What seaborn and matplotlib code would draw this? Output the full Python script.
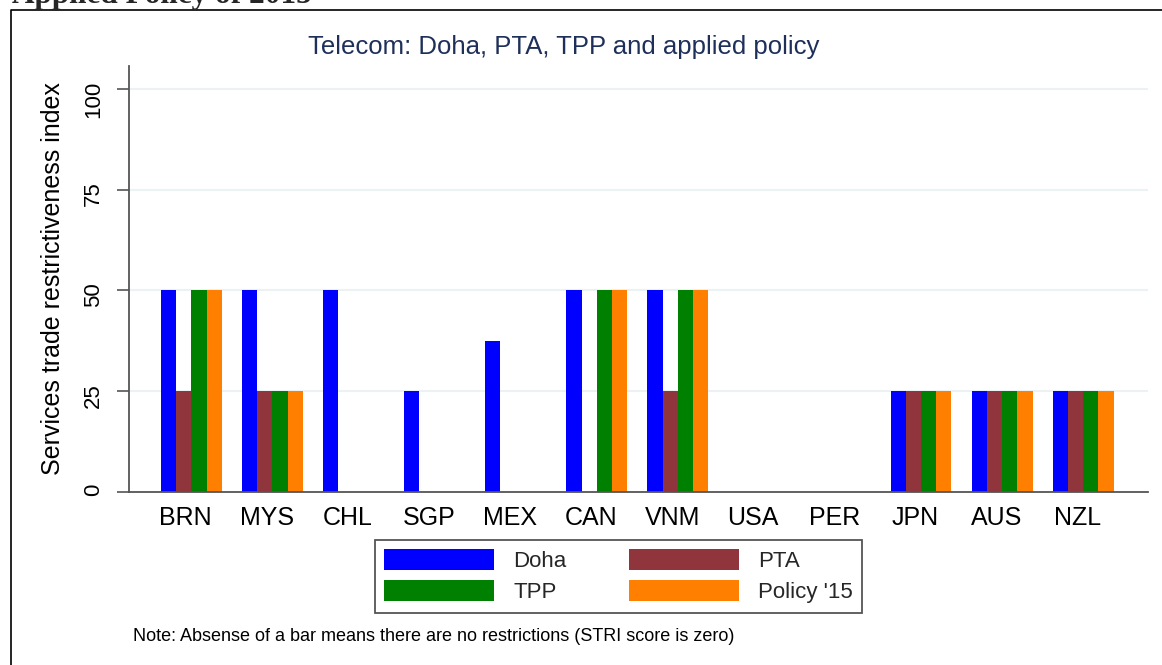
import numpy as np
import pandas as pd
import seaborn as sns
import matplotlib.pyplot as plt
from matplotlib.lines import Line2D

# Data (STRI scores, telecom)
countries = ['BRN', 'MYS', 'CHL', 'SGP', 'MEX', 'CAN', 'VNM', 'USA', 'PER', 'JPN', 'AUS', 'NZL']
doha = [50, 50, 50, 25, 37.5, 50, 50, 0, 0, 25, 25, 25]
pta = [25, 25, 0, 0, 0, 0, 25, 0, 0, 25, 25, 25]
tpp = [50, 25, 0, 0, 0, 50, 50, 0, 0, 25, 25, 25]
policy15 = [50, 25, 0, 0, 0, 50, 50, 0, 0, 25, 25, 25]
series_names = ['Doha', 'PTA', 'TPP', "Policy '15"]
series_colors = ['#0000ff', '#90353b', '#008000', '#ff8000']

df = pd.DataFrame({
    'country': countries * 4,
    'series': [s for s in series_names for _ in countries],
    'value': doha + pta + tpp + policy15,
})

sns.set_style("white")
plt.rcParams['font.family'] = ['Liberation Sans', 'DejaVu Sans']

fig = plt.figure(figsize=(11.62, 6.65), dpi=100)
ax = fig.add_axes([0.111, 0.2602, 0.877, 0.6406])

sns.barplot(data=df, x='country', y='value', hue='series', order=countries,
            hue_order=series_names, palette=series_colors, width=0.75,
            saturation=1, errorbar=None, linewidth=0, ax=ax)

ax.set_xlim(-0.77, 11.8)
ax.set_ylim(0, 105.7)
ax.set_yticks([0, 25, 50, 75, 100])
# labels sit a little left of the bar groups in the original
ax.set_xticks(np.arange(len(countries)) - 0.07)
ax.set_xticklabels(countries)
ax.grid(axis='y', color='#eaf2f3', linewidth=1.5)
ax.set_axisbelow(True)
for side in ['top', 'right']:
    ax.spines[side].set_visible(False)
for side in ['left', 'bottom']:
    ax.spines[side].set_color('#555555')
    ax.spines[side].set_linewidth(1.3)
ax.tick_params(axis='y', direction='out', length=9, width=1.2, color='#555555',
               labelsize=16, labelcolor='black', labelrotation=90, pad=9, left=True)
ax.tick_params(axis='x', length=0, labelsize=18, labelcolor='black', pad=10)
ax.set_xlabel('')
ax.set_ylabel('Services trade restrictiveness index', fontsize=18, color='black', labelpad=13)

# legend below the plot, row order Doha/PTA then TPP/Policy
handles, labels = ax.get_legend_handles_labels()
ax.get_legend().remove()
idx = [0, 2, 1, 3]
leg = fig.legend([handles[i] for i in idx], [labels[i] for i in idx], ncol=2,
                 loc='upper left', bbox_to_anchor=(375 / 1162, 1 - 540 / 665),
                 borderaxespad=0, fontsize=16, handlelength=4.95, handleheight=1.08,
                 handletextpad=0.86, columnspacing=2.8, labelspacing=0.35, borderpad=0.42,
                 fancybox=False, framealpha=1)
leg.get_frame().set_edgecolor('#555555')
leg.get_frame().set_linewidth(1.3)

fig.text(0.4854, 0.929, 'Telecom: Doha, PTA, TPP and applied policy',
         ha='center', va='center', fontsize=18.5, color='#1e2f5a')
fig.text(0.1145, 0.0436, 'Note: Absense of a bar means there are no restrictions (STRI score is zero)',
         ha='left', va='center', fontsize=13, color='black')

# page heading cut off at top and frame lines
fig.text(12 / 1162, 1 - 3.5 / 665, 'Applied Policy of 2015', ha='left', va='baseline',
         fontsize=22.5, fontweight='bold', family=['Liberation Serif', 'DejaVu Serif'])
fig.add_artist(Line2D([11 / 1162, 11 / 1162, 1.0], [0.0, 1 - 9.5 / 665, 1 - 9.5 / 665],
                      transform=fig.transFigure, color='black', linewidth=1.2))

plt.savefig('out.png', dpi=100)
